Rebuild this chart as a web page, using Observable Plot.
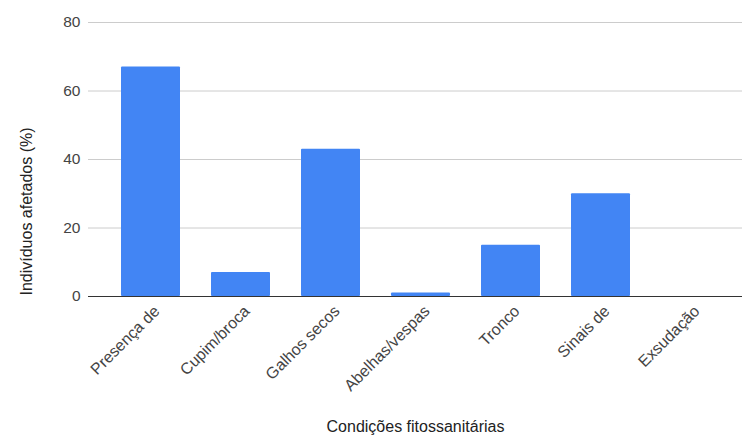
<!DOCTYPE html>
<html><head><meta charset="utf-8">
<script src="https://cdn.jsdelivr.net/npm/d3@7"></script>
<script src="https://cdn.jsdelivr.net/npm/@observablehq/plot@0.6"></script>
<style>body{margin:0;background:#fff;font-family:"Liberation Sans",Arial,sans-serif}</style>
</head><body><div id="chart"></div>
<script>
const categories = ["Presença de", "Cupim/broca", "Galhos secos", "Abelhas/vespas", "Tronco", "Sinais de", "Exsudação"];
const values = [67, 7, 43, 1, 15, 30, 0];
const yTicks = [0, 20, 40, 60, 80];
const xTitle = "Condições fitossanitárias";
const yTitle = "Indivíduos afetados (%)";

const data = categories.map((c, i) => ({cat: c, val: values[i]}));

const chart = Plot.plot({
  width: 743, height: 439,
  marginLeft: 88, marginRight: 1, marginTop: 22, marginBottom: 143,
  style: {fontFamily: "'Liberation Sans', Arial, sans-serif", fontSize: "16px", color: "#444", background: "#fff"},
  x: {domain: categories, padding: 0.35, range: [88.4, 752.5]},
  y: {domain: [0, 80], ticks: yTicks},
  marks: [
    Plot.ruleY(yTicks.filter(d => d > 0), {stroke: "#cccccc", strokeWidth: 1}),
    Plot.barY(data, {x: "cat", y: "val", fill: "#4285F4", rx: 1}),
    Plot.ruleY([0], {stroke: "#333", strokeWidth: 1.2}),
    Plot.axisY({ticks: yTicks, tickSize: 0, tickPadding: 8, label: null, fill: "#444", fontSize: 15.5}),
    Plot.axisX({tickSize: 0, tickRotate: -45, tickPadding: 12, dx: 6, label: null, fill: "#444", fontSize: 16}),
    Plot.text([yTitle], {frameAnchor: "left", textAnchor: "middle", lineAnchor: "middle", dx: -61.5, dy: 52, rotate: -90, text: d => d, fill: "#222", fontSize: 16}),
    Plot.text([xTitle], {frameAnchor: "bottom", dy: 135, text: d => d, fill: "#222", fontSize: 16})
  ]
});
document.getElementById("chart").appendChild(chart);
</script></body></html>
